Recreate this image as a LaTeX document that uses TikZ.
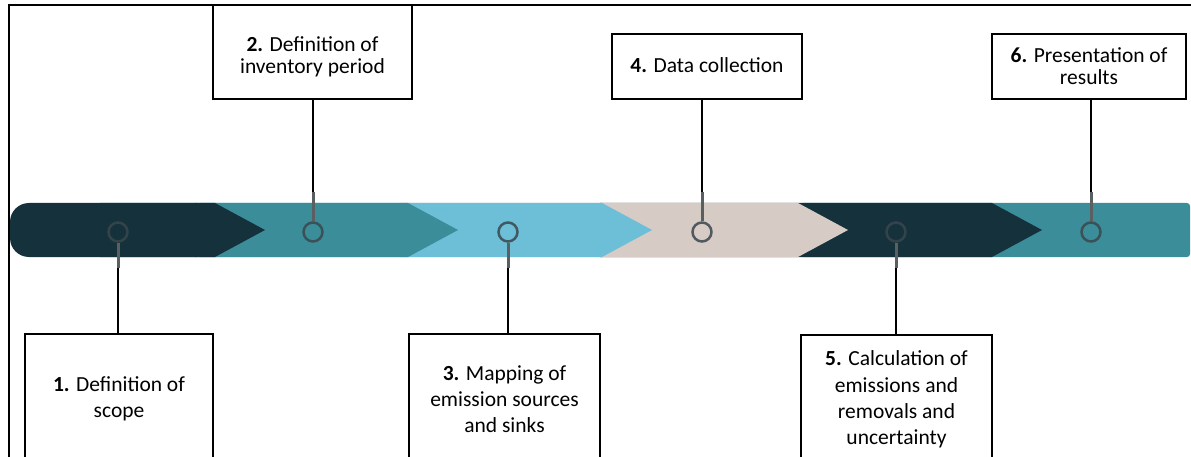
\documentclass[tikz,border=0pt]{standalone}
\usepackage{fontspec}
\setmainfont{Carlito}
\usetikzlibrary{calc}
\definecolor{segdark}{HTML}{15323C}
\definecolor{segteal}{HTML}{3B8D9A}
\definecolor{segsky}{HTML}{6CBFD7}
\definecolor{segsand}{HTML}{D6CBC5}
\definecolor{ringgray}{HTML}{3A474C}
\definecolor{stubgray}{HTML}{5A5F62}
\tikzset{
  frameline/.style={line width=2pt, line cap=rect},
  box/.style={draw=black, line width=2pt, fill=white, inner sep=0pt, align=center},
  toptext/.style={align=center, inner sep=0pt, font=\fontsize{21.5}{22}\selectfont},
  bottext/.style={align=center, inner sep=0pt, font=\fontsize{21.5}{26.3}\selectfont},
  ring/.style={circle, draw=ringgray, draw opacity=.85, line width=2.5pt, minimum size=19pt, inner sep=0pt},
  stem/.style={draw=black, line width=2pt},
  stub/.style={draw=stubgray, line width=3pt},
}
\begin{document}
\begin{tikzpicture}[x=1pt,y=-1pt]
\useasboundingbox (0,0) rectangle (1191,457);
\clip (0,0) rectangle (1191,457);

% timeline bar, drawn from the last segment back to the first
\fill[segteal, rounded corners=3pt] (800,203) rectangle (1190,257);
\fill[segdark] (600,203) -- (992,203) -- (1042,230) -- (992,257) -- (600,257) -- cycle;
\fill[segsand] (400,203) -- (798,203) -- (848,230) -- (798,257) -- (400,257) -- cycle;
\fill[segsky] (200,203) -- (602,203) -- (652,230) -- (602,257) -- (200,257) -- cycle;
\fill[segteal] (100,203) -- (408,203) -- (458,230) -- (408,257) -- (100,257) -- cycle;
\fill[segdark, rounded corners=19pt] (10,203) rectangle (215,257);
\fill[segdark] (195,203) -- (215,203) -- (265,230) -- (215,257) -- (195,257) -- cycle;

% milestone rings
\node[ring] (c1) at (118,232) {};
\node[ring] (c2) at (313,232) {};
\node[ring] (c3) at (508,232) {};
\node[ring] (c4) at (702,232) {};
\node[ring] (c5) at (896,232) {};
\node[ring] (c6) at (1091,232) {};

% step boxes above the bar
\node[box, minimum width=199pt, minimum height=94pt] (b2) at (312.5,52) {};
\node[toptext] (t2) at (312.5,56.5) {\textbf{2.} Definition of\\inventory period};
\node[box, minimum width=190pt, minimum height=65pt] (b4) at (707,66.5) {};
\node[toptext] (t4) at (707,65.5) {\textbf{4.} Data collection};
\node[box, minimum width=194pt, minimum height=65pt] (b6) at (1089,66.5) {};
\node[toptext] (t6) at (1089,66.5) {\textbf{6.} Presentation of\\results};

% step boxes below the bar (open towards the bottom)
\node[box, minimum width=188pt, minimum height=130pt] (b1) at (119,399) {};
\node[bottext] (t1) at (119,399) {\textbf{1.} Definition of\\scope};
\node[box, minimum width=191pt, minimum height=130pt] (b3) at (504.5,399) {};
\node[bottext] (t3) at (504.5,399) {\textbf{3.} Mapping of\\emission sources\\and sinks};
\node[box, minimum width=191pt, minimum height=130pt] (b5) at (896.5,399.5) {};
\node[bottext] (t5) at (896.5,399.5) {\textbf{5.} Calculation of\\emissions and\\removals and\\uncertainty};

% connectors from boxes to rings
\draw[stem] (b2.south -| c2) -- (c2.north);
\draw[stem] (b4.south -| c4) -- (c4.north);
\draw[stem] (b6.south -| c6) -- (c6.north);
\draw[stem] (c1.south) -- (b1.north -| c1);
\draw[stem] (c3.south) -- (b3.north -| c3);
\draw[stem] (c5.south) -- (b5.north -| c5);
\coordinate (s2) at ($(c2.north)+(0,-29)$);
\coordinate (s4) at ($(c4.north)+(0,-29)$);
\coordinate (s6) at ($(c6.north)+(0,-29)$);
\coordinate (s1) at ($(c1.south)+(0,25)$);
\coordinate (s3) at ($(c3.south)+(0,25)$);
\coordinate (s5) at ($(c5.south)+(0,25)$);
\draw[stub] (s2) -- (c2.north);
\draw[stub] (s4) -- (c4.north);
\draw[stub] (s6) -- (c6.north);
\draw[stub] (c1.south) -- (s1);
\draw[stub] (c3.south) -- (s3);
\draw[stub] (c5.south) -- (s5);

% page frame: top and left rules
\coordinate (fa) at (9,457);
\coordinate (fb) at (9,5);
\coordinate (fc) at (1191,5);
\draw[frameline] (fa) -- (fb) -- (fc);
\end{tikzpicture}
\end{document}
